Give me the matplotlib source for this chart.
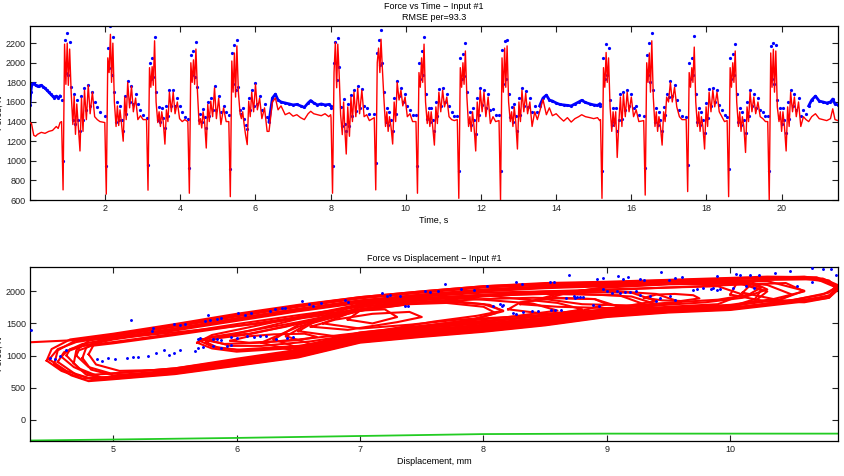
import matplotlib
matplotlib.use('Agg')
import matplotlib.pyplot as plt

plt.rcParams['font.family'] = ['Liberation Sans', 'DejaVu Sans']
plt.rcParams['font.size'] = 6.5

########## FORCE VS TIME ##########
# times of the sharp dips (s)
spike_t = [0.88, 2.03, 3.14, 4.24, 5.33, 8.05, 9.20, 10.31, 11.41, 12.52,
           15.22, 16.37, 17.50, 18.59, 19.67]
# turning points after each dip (s)
cycle_dt = [-0.04, 0.0, 0.04, 0.075, 0.11, 0.14, 0.175, 0.215, 0.26, 0.295, 0.33, 0.365,
            0.405, 0.45, 0.49, 0.53, 0.57, 0.62, 0.67, 0.72, 0.78, 0.84, 0.91, 0.98]

red_cycles = [
    [1400, 703, 2190, 1780, 2200, 1770, 2140, 1700, 1370, 1660, 1270, 1580, 1350, 1100, 1640, 1300, 1720, 1420, 1770, 1480, 1700, 1450, 1420, 1400],
    [1390, 660, 2050, 1900, 2290, 1800, 2200, 1600, 1350, 1560, 1360, 1520, 1380, 1200, 1650, 1420, 1800, 1540, 1760, 1500, 1640, 1420, 1460, 1420],
    [1420, 700, 1950, 1750, 1960, 1770, 2224, 1600, 1390, 1500, 1350, 1500, 1400, 1170, 1520, 1400, 1700, 1500, 1700, 1480, 1600, 1430, 1400, 1420],
    [1400, 669, 2000, 1800, 2030, 1780, 2140, 1711, 1370, 1430, 1335, 1500, 1400, 1130, 1575, 1400, 1608, 1450, 1745, 1430, 1640, 1370, 1540, 1400],
    [1400, 634, 2018, 1700, 2100, 1650, 2172, 1700, 1480, 1430, 1500, 1380, 1267, 1165, 1608, 1450, 1700, 1500, 1780, 1520, 1640, 1430, 1540, 1300],
    [1440, 669, 1900, 2207, 1745, 2190, 1900, 1472, 1267, 1600, 1300, 1069, 1550, 1250, 1650, 1400, 1700, 1450, 1740, 1480, 1720, 1450, 1470, 1410],
    [1440, 703, 2000, 2150, 1900, 2240, 1950, 1650, 1350, 1500, 1300, 1450, 1350, 1171, 1600, 1400, 1800, 1620, 1720, 1560, 1650, 1450, 1480, 1400],
    [1400, 669, 1900, 1750, 2050, 1800, 2190, 1600, 1380, 1500, 1350, 1500, 1350, 1160, 1550, 1380, 1700, 1500, 1720, 1550, 1650, 1450, 1420, 1410],
    [1420, 617, 1950, 1750, 2000, 1780, 2120, 1650, 1350, 1450, 1300, 1500, 1350, 1100, 1600, 1400, 1720, 1500, 1700, 1450, 1650, 1380, 1450, 1400],
    [1410, 600, 2050, 1700, 2150, 1750, 2172, 1600, 1400, 1500, 1350, 1550, 1400, 1120, 1600, 1400, 1720, 1500, 1690, 1480, 1600, 1350, 1500, 1420],
    [1420, 617, 1950, 1750, 2105, 1800, 2050, 1550, 1300, 1500, 1350, 1500, 1034, 1400, 1650, 1350, 1680, 1450, 1700, 1500, 1650, 1450, 1520, 1400],
    [1410, 650, 2000, 1800, 2100, 1700, 2224, 1650, 1350, 1500, 1300, 1450, 1350, 1160, 1500, 1400, 1650, 1600, 1800, 1600, 1750, 1550, 1450, 1420],
    [1420, 686, 1900, 1750, 1950, 1800, 2160, 1600, 1350, 1500, 1300, 1450, 1350, 1120, 1550, 1350, 1700, 1500, 1720, 1550, 1700, 1500, 1450, 1400],
    [1410, 634, 1950, 1750, 2000, 1800, 2120, 1600, 1350, 1500, 1300, 1450, 1350, 1085, 1550, 1400, 1700, 1500, 1650, 1480, 1600, 1450, 1430, 1400],
    [1400, 600, 2100, 1750, 2138, 1700, 2120, 1550, 1400, 1500, 1300, 1500, 1350, 1100, 1550, 1350, 1700, 1500, 1650, 1450, 1600, 1350, 1450, 1420],
]
blue_cycles = [
    [1620, 1000, 2230, 1900, 2300, 1880, 2210, 1750, 1420, 1680, 1380, 1620, 1420, 1300, 1660, 1420, 1740, 1520, 1770, 1560, 1700, 1600, 1550, 1500],
    [1460, 950, 2150, 1950, 2370, 1880, 2260, 1700, 1400, 1600, 1420, 1560, 1420, 1300, 1660, 1480, 1810, 1600, 1760, 1580, 1680, 1580, 1520, 1470],
    [1440, 960, 2000, 1830, 2050, 1850, 2260, 1700, 1420, 1550, 1400, 1540, 1440, 1330, 1560, 1460, 1720, 1560, 1720, 1560, 1640, 1560, 1500, 1450],
    [1430, 930, 2080, 1880, 2120, 1850, 2210, 1750, 1420, 1480, 1400, 1530, 1450, 1330, 1600, 1460, 1640, 1520, 1760, 1520, 1660, 1500, 1560, 1500],
    [1470, 920, 2100, 1780, 2180, 1720, 2230, 1750, 1520, 1480, 1540, 1430, 1360, 1320, 1640, 1520, 1720, 1560, 1790, 1580, 1660, 1520, 1580, 1450],
    [1540, 950, 2000, 2210, 1820, 2250, 1960, 1550, 1350, 1630, 1380, 1300, 1580, 1350, 1670, 1460, 1720, 1510, 1760, 1540, 1730, 1560, 1540, 1480],
    [1480, 980, 2100, 2230, 1980, 2330, 2000, 1700, 1400, 1540, 1360, 1500, 1420, 1300, 1640, 1480, 1810, 1660, 1740, 1600, 1680, 1560, 1520, 1470],
    [1470, 950, 2000, 1830, 2120, 1880, 2260, 1680, 1430, 1540, 1400, 1540, 1420, 1300, 1600, 1460, 1730, 1560, 1740, 1600, 1680, 1560, 1500, 1460],
    [1460, 900, 2050, 1830, 2090, 1860, 2200, 1700, 1400, 1500, 1360, 1540, 1420, 1270, 1640, 1470, 1740, 1570, 1720, 1540, 1680, 1520, 1530, 1470],
    [1470, 900, 2130, 1780, 2220, 1830, 2230, 1680, 1450, 1550, 1400, 1580, 1460, 1300, 1640, 1470, 1740, 1560, 1710, 1550, 1640, 1500, 1560, 1500],
    [1560, 900, 2050, 1830, 2190, 1880, 2150, 1620, 1360, 1540, 1400, 1540, 1300, 1420, 1680, 1430, 1700, 1520, 1720, 1560, 1680, 1540, 1560, 1470],
    [1460, 930, 2080, 1880, 2200, 1800, 2300, 1720, 1400, 1540, 1360, 1500, 1420, 1300, 1550, 1470, 1680, 1650, 1810, 1660, 1770, 1620, 1520, 1460],
    [1450, 960, 2000, 1830, 2050, 1880, 2270, 1680, 1400, 1540, 1360, 1500, 1420, 1280, 1590, 1440, 1730, 1560, 1740, 1600, 1720, 1570, 1520, 1470],
    [1450, 920, 2050, 1830, 2090, 1880, 2190, 1680, 1400, 1540, 1360, 1500, 1420, 1280, 1600, 1460, 1720, 1560, 1680, 1540, 1640, 1520, 1500, 1460],
    [1460, 900, 2170, 1830, 2200, 1780, 2180, 1620, 1440, 1540, 1380, 1540, 1420, 1280, 1600, 1430, 1720, 1560, 1680, 1520, 1640, 1460, 1520, 1480],
]

# quiet stretches (start, two pauses, end)
start_t_red = [0.0, 0.04, 0.1, 0.15, 0.2, 0.3, 0.4, 0.5, 0.6, 0.7, 0.75, 0.8]
start_red = [1390, 1380, 1260, 1250, 1270, 1290, 1280, 1300, 1310, 1350, 1330, 1390]
start_t_blue = [0.0, 0.02, 0.05, 0.1, 0.15, 0.2, 0.25, 0.3, 0.35, 0.4, 0.45, 0.5, 0.55, 0.6, 0.65, 0.7, 0.75, 0.8]
start_blue = [1570, 1700, 1780, 1790, 1770, 1760, 1765, 1770, 1755, 1740, 1720, 1700, 1680, 1660, 1640, 1660, 1640, 1660]

gap1_t = [6.36, 6.45, 6.53, 6.60, 6.68, 6.79, 6.9, 7.0, 7.1, 7.2, 7.3, 7.4, 7.47, 7.55, 7.65, 7.75, 7.85, 7.95, 8.0]
gap1_red = [1300, 1600, 1640, 1520, 1560, 1470, 1490, 1455, 1470, 1440, 1420, 1480, 1505, 1480, 1470, 1460, 1480, 1450, 1470]
gap1_blue = [1400, 1640, 1680, 1620, 1600, 1590, 1580, 1570, 1575, 1560, 1545, 1590, 1615, 1590, 1570, 1580, 1570, 1575, 1560]

gap2_t = [13.56, 13.65, 13.74, 13.82, 13.9, 14.0, 14.1, 14.2, 14.3, 14.4, 14.5, 14.6, 14.68, 14.78, 14.9, 15.0, 15.1, 15.16]
gap2_red = [1500, 1625, 1470, 1540, 1460, 1480, 1440, 1405, 1440, 1395, 1430, 1450, 1470, 1450, 1440, 1430, 1440, 1410]
gap2_blue = [1560, 1640, 1670, 1620, 1610, 1590, 1575, 1570, 1565, 1560, 1580, 1600, 1617, 1595, 1580, 1570, 1565, 1580]

end_t = [20.72, 20.8, 20.9, 21.0, 21.1, 21.2, 21.3, 21.36, 21.42, 21.5]
end_red = [1400, 1450, 1480, 1430, 1420, 1410, 1430, 1530, 1420, 1410]
end_blue = [1560, 1620, 1660, 1610, 1600, 1590, 1600, 1630, 1580, 1570]

########## FORCE VS DISPLACEMENT ##########
# model loops (displacement mm, force N)
loop_disp = [
    [4.48, 4.62, 4.80, 5.0, 5.5, 6.0, 6.5, 7.0, 7.5, 8.0, 8.5, 9.0, 9.5, 10.0, 10.4, 10.75, 10.86,
     10.7, 10.0, 9.5, 9.0, 8.5, 8.0, 7.5, 7.0, 6.5, 6.0, 5.5, 5.0, 4.7, 4.55, 4.48],
    [4.55, 4.70, 4.85, 5.0, 5.5, 6.0, 6.5, 7.0, 7.5, 8.0, 8.5, 9.0, 9.5, 10.0, 10.3, 10.5,
     10.3, 10.0, 9.5, 9.0, 8.5, 8.0, 7.5, 7.0, 6.5, 6.0, 5.5, 5.0, 4.75, 4.6, 4.55],
    [4.62, 4.72, 4.90, 5.0, 5.5, 6.0, 6.5, 7.0, 7.5, 8.0, 8.5, 9.0, 9.5, 10.0, 10.2, 10.3,
     10.1, 9.5, 9.0, 8.5, 8.0, 7.5, 7.0, 6.5, 6.0, 5.5, 5.0, 4.8, 4.65, 4.62],
    [4.68, 4.78, 4.95, 5.5, 6.0, 6.5, 7.0, 7.5, 8.0, 8.5, 9.0, 9.5, 10.0, 10.5, 10.8, 10.87,
     10.75, 10.3, 10.0, 9.5, 9.0, 8.5, 8.0, 7.5, 7.0, 6.5, 6.0, 5.5, 5.0, 4.8, 4.7, 4.68],
    [4.75, 4.82, 5.0, 5.5, 6.0, 6.5, 7.0, 7.5, 8.0, 8.5, 9.0, 9.5, 10.0, 10.2, 10.25,
     10.05, 9.5, 9.0, 8.5, 8.0, 7.5, 7.0, 6.5, 6.0, 5.5, 5.0, 4.85, 4.78, 4.75],
    [4.52, 4.66, 4.80, 5.0, 5.5, 6.0, 6.5, 7.0, 7.5, 8.0, 8.5, 9.0, 9.5, 10.0, 10.5, 10.8, 10.87,
     10.8, 10.5, 10.0, 9.5, 9.0, 8.5, 8.0, 7.5, 7.0, 6.5, 6.0, 5.5, 5.0, 4.7, 4.55, 4.52],
    [4.58, 4.68, 4.82, 5.0, 5.5, 6.0, 6.5, 7.0, 7.5, 8.0, 8.5, 9.0, 9.5, 10.0, 10.35, 10.6,
     10.45, 10.0, 9.5, 9.0, 8.5, 8.0, 7.5, 7.0, 6.5, 6.0, 5.5, 5.0, 4.75, 4.62, 4.58],
    [4.46, 4.58, 4.75, 5.0, 5.5, 6.0, 6.5, 7.0, 7.5, 8.0, 8.5, 9.0, 9.5, 10.0, 10.5, 10.8, 10.87,
     10.7, 10.3, 10.0, 9.5, 9.0, 8.5, 8.0, 7.5, 7.0, 6.5, 6.0, 5.5, 5.0, 4.65, 4.50, 4.46],
    [4.70, 4.80, 4.98, 5.5, 6.0, 6.5, 7.0, 7.5, 8.0, 8.5, 9.0, 9.5, 9.9, 10.1,
     9.9, 9.5, 9.0, 8.5, 8.0, 7.5, 7.0, 6.5, 6.0, 5.5, 5.0, 4.82, 4.72, 4.70],
    [4.80, 4.86, 5.05, 5.5, 6.0, 6.5, 7.0, 7.5, 8.0, 8.5, 9.0, 9.5, 10.0, 10.4, 10.6,
     10.3, 10.0, 9.5, 9.0, 8.5, 8.0, 7.5, 7.0, 6.5, 6.0, 5.5, 5.0, 4.85, 4.80],
    # loops round the hole at 7.4-8.2 mm
    [5.70, 5.80, 6.00, 6.50, 7.00, 7.50, 7.90, 8.16, 8.05, 7.80, 7.50, 7.00, 6.50, 6.00, 5.80, 5.70],
    [5.75, 5.85, 6.05, 6.50, 7.00, 7.50, 7.90, 8.10, 8.00, 7.70, 7.40, 7.00, 6.50, 6.10, 5.85, 5.75],
    [5.72, 5.90, 6.20, 6.50, 6.80, 7.20, 7.60, 7.95, 8.16, 8.00, 7.60, 7.20, 6.80, 6.40, 6.10, 5.85, 5.72],
    [5.95, 6.10, 6.30, 6.50, 6.65, 6.55, 6.30, 6.10, 5.95],
    [5.68, 5.80, 6.00, 6.50, 7.00, 7.50, 8.00, 8.50, 8.80, 8.60, 8.00, 7.50, 7.00, 6.50, 6.00, 5.80, 5.68],
    [5.78, 5.95, 6.20, 6.60, 7.00, 7.40, 7.80, 8.20, 8.60, 8.40, 7.80, 7.40, 7.00, 6.60, 6.20, 5.95, 5.78],
    # middle loops
    [6.30, 6.50, 7.00, 7.50, 8.00, 8.50, 9.00, 9.30, 9.10, 8.50, 8.00, 7.50, 7.00, 6.50, 6.30],
    [6.40, 6.60, 7.00, 7.50, 8.00, 8.50, 9.00, 9.40, 9.20, 8.60, 8.00, 7.50, 7.00, 6.60, 6.40],
    [6.20, 6.45, 7.00, 7.50, 8.00, 8.50, 8.90, 9.10, 8.90, 8.40, 8.00, 7.50, 7.00, 6.50, 6.20],
    [6.50, 6.80, 7.20, 7.60, 8.00, 8.40, 8.80, 9.20, 9.60, 9.40, 9.00, 8.50, 8.00, 7.50, 7.00, 6.70, 6.50],
    [6.70, 7.00, 7.40, 7.80, 8.20, 8.60, 9.00, 9.40, 9.20, 8.80, 8.40, 8.00, 7.60, 7.20, 6.90, 6.70],
    [6.60, 6.90, 7.30, 7.50, 7.40, 7.10, 6.80, 6.60],
    [6.90, 7.10, 7.30, 7.20, 7.00, 6.90],
    [8.20, 8.50, 8.80, 9.00, 8.90, 8.60, 8.30, 8.20],
    # right loops
    [8.30, 8.60, 9.00, 9.40, 9.80, 10.10, 10.30, 10.20, 9.90, 9.50, 9.00, 8.60, 8.30],
    [8.50, 8.80, 9.20, 9.55, 9.90, 10.15, 10.25, 10.10, 9.80, 9.40, 9.00, 8.70, 8.50],
    [9.30, 9.45, 9.60, 9.75, 9.70, 9.55, 9.40, 9.30],
    [10.00, 10.30, 10.60, 10.80, 10.87, 10.80, 10.60, 10.30, 10.05, 10.00],
    [10.10, 10.40, 10.65, 10.82, 10.86, 10.75, 10.50, 10.20, 10.10],
    # first stroke entering from the left
    [4.20, 5.00, 5.60, 6.20, 7.00],
]
loop_force = [
    [940, 760, 650, 660, 740, 870, 1000, 1230, 1320, 1400, 1500, 1630, 1690, 1730, 1830, 1950, 2060,
     2190, 2170, 2150, 2120, 2100, 2060, 1980, 1890, 1760, 1610, 1450, 1300, 1210, 1100, 940],
    [900, 700, 620, 640, 720, 850, 980, 1210, 1300, 1380, 1480, 1610, 1680, 1720, 1790, 1950,
     2100, 2160, 2130, 2100, 2080, 2030, 1950, 1850, 1720, 1580, 1420, 1270, 1180, 1050, 900],
    [1000, 800, 660, 670, 760, 890, 1020, 1250, 1340, 1420, 1520, 1640, 1700, 1750, 1850, 2000,
     2120, 2110, 2080, 2050, 2000, 1920, 1820, 1690, 1540, 1390, 1250, 1170, 1100, 1000],
    [880, 700, 640, 750, 880, 1010, 1240, 1330, 1410, 1510, 1630, 1700, 1740, 1860, 1980, 2100,
     2200, 2210, 2190, 2160, 2130, 2110, 2070, 1990, 1900, 1770, 1620, 1460, 1310, 1230, 1080, 880],
    [960, 780, 690, 770, 900, 1040, 1260, 1350, 1430, 1530, 1650, 1710, 1760, 1880, 2020,
     2140, 2120, 2090, 2060, 2010, 1930, 1830, 1700, 1560, 1400, 1260, 1200, 1120, 960],
    [860, 690, 600, 630, 710, 840, 970, 1200, 1290, 1370, 1470, 1600, 1670, 1710, 1820, 1900, 2020,
     2150, 2220, 2200, 2170, 2140, 2120, 2080, 2000, 1910, 1780, 1630, 1470, 1320, 1240, 1080, 860],
    [980, 820, 700, 720, 800, 930, 1070, 1300, 1390, 1460, 1560, 1680, 1740, 1790, 1880, 2000,
     2130, 2100, 2060, 2030, 2000, 1940, 1860, 1760, 1630, 1490, 1340, 1210, 1150, 1060, 980],
    [920, 760, 640, 650, 730, 860, 990, 1220, 1310, 1390, 1490, 1620, 1690, 1740, 1840, 1930, 2080,
     2220, 2230, 2210, 2180, 2150, 2130, 2080, 2000, 1910, 1790, 1650, 1490, 1340, 1250, 1100, 920],
    [1000, 820, 720, 800, 950, 1090, 1320, 1400, 1480, 1570, 1700, 1760, 1800, 1950,
     2080, 2060, 2020, 1990, 1920, 1830, 1720, 1600, 1460, 1320, 1190, 1150, 1080, 1000],
    [1020, 860, 760, 780, 910, 1050, 1280, 1370, 1450, 1550, 1670, 1730, 1770, 1870, 2010,
     2160, 2150, 2120, 2090, 2070, 2020, 1950, 1860, 1730, 1580, 1420, 1280, 1200, 1020],
    [1230, 1140, 1090, 1150, 1300, 1450, 1560, 1690, 1790, 1840, 1830, 1720, 1520, 1350, 1290, 1230],
    [1210, 1120, 1080, 1130, 1280, 1430, 1550, 1660, 1760, 1820, 1800, 1700, 1500, 1330, 1270, 1210],
    [1250, 1180, 1200, 1250, 1310, 1400, 1530, 1620, 1700, 1800, 1850, 1770, 1640, 1450, 1340, 1300, 1250],
    [1230, 1200, 1220, 1240, 1290, 1340, 1330, 1300, 1230],
    [1200, 1110, 1060, 1120, 1270, 1420, 1520, 1620, 1720, 1820, 1940, 1900, 1800, 1600, 1400, 1320, 1200],
    [1240, 1150, 1150, 1220, 1340, 1440, 1530, 1600, 1700, 1810, 1900, 1870, 1780, 1620, 1430, 1320, 1240],
    [1250, 1120, 1330, 1430, 1500, 1590, 1690, 1800, 1940, 1960, 1930, 1870, 1720, 1480, 1250],
    [1300, 1180, 1360, 1460, 1540, 1620, 1720, 1850, 1980, 1990, 1950, 1880, 1750, 1520, 1300],
    [1200, 1080, 1300, 1400, 1470, 1560, 1650, 1760, 1880, 1900, 1880, 1830, 1700, 1450, 1200],
    [1380, 1300, 1380, 1460, 1530, 1600, 1660, 1730, 1830, 1960, 2010, 2000, 1980, 1920, 1800, 1600, 1380],
    [1500, 1420, 1480, 1560, 1600, 1650, 1720, 1800, 1920, 1960, 1960, 1940, 1900, 1790, 1650, 1500],
    [1450, 1400, 1520, 1600, 1680, 1650, 1560, 1450],
    [1560, 1500, 1600, 1720, 1700, 1560],
    [1720, 1650, 1700, 1800, 1880, 1900, 1830, 1720],
    [1800, 1760, 1740, 1780, 1830, 1900, 2030, 2120, 2140, 2120, 2070, 1960, 1800],
    [1880, 1800, 1780, 1830, 1870, 1950, 2060, 2150, 2160, 2100, 2060, 1990, 1880],
    [1900, 1860, 1850, 1890, 1940, 1960, 1950, 1900],
    [1950, 1840, 1830, 1900, 2040, 2170, 2230, 2210, 2120, 1950],
    [1980, 1860, 1860, 1950, 2060, 2190, 2220, 2170, 1980],
    [1195, 1268, 1380, 1500, 1700],
]

# measured points
meas_disp = [4.49, 4.53, 4.57, 4.62, 4.87, 4.91, 4.96, 5.01, 5.11, 5.16, 5.20, 5.28, 5.35, 5.41, 5.45,
             5.49, 5.54, 5.66, 5.69, 5.73, 5.81, 5.87, 5.92, 5.95, 5.14, 5.31, 5.32, 5.49, 5.54, 5.58,
             5.74, 5.77, 5.78, 5.84, 5.87, 6.01, 6.07, 6.12, 6.27, 6.31, 6.37, 6.39, 5.69, 5.70, 5.81,
             5.84, 5.87, 5.95, 6.00, 6.08, 6.14, 6.19, 6.24, 6.32, 6.41, 6.46, 4.33,
             6.53, 6.59, 6.62, 6.68, 6.88, 6.90, 7.18, 7.22, 7.24, 7.32, 7.36, 7.39, 7.53, 7.57, 7.63,
             7.69, 7.82, 7.92, 8.03, 8.08, 8.13, 8.16, 8.15, 8.24, 8.26, 8.32, 8.39, 8.44, 8.55, 8.58,
             8.63, 8.26, 8.31, 8.54, 8.57, 8.69, 8.73, 8.76,
             8.92, 8.97, 9.09, 9.13, 9.17, 9.27, 9.30, 9.44, 9.50, 9.55, 9.61, 9.89, 10.05, 10.08, 10.16,
             10.23, 10.36, 10.48, 10.66, 10.75, 10.82, 10.86, 10.54, 10.66, 8.74, 8.78, 8.81, 8.97,
             9.00, 9.04, 9.08, 9.11, 9.15, 9.19, 9.24, 9.27, 9.35, 9.43, 9.40, 9.51, 9.55, 9.70, 9.73,
             9.78, 9.84, 9.86, 9.89, 9.92, 10.02, 10.13, 10.19, 8.89, 8.94, 8.67]
meas_force = [964, 938, 989, 1093, 938, 911, 964, 938, 964, 979, 979, 1000, 1042, 1093, 1015,
              1042, 1093, 1067, 1119, 1135, 1145, 1119, 1145, 1171, 1560, 1378, 1431, 1497, 1482, 1497,
              1534, 1638, 1549, 1575, 1586, 1664, 1638, 1664, 1689, 1726, 1741, 1741, 1259, 1275, 1259,
              1259, 1249, 1290, 1275, 1311, 1290, 1300, 1311, 1259, 1275, 1290, 1390,
              1844, 1808, 1767, 1819, 1871, 1829, 1975, 1922, 1948, 1933, 1767, 1777, 2000, 1990, 2000,
              2114, 2037, 2015, 2088, 1767, 1808, 1793, 1767, 1664, 1653, 1679, 1689, 1689, 1715, 1715,
              1704, 2146, 2119, 2146, 2146, 2259, 1922, 1906,
              2192, 2208, 2233, 2192, 2218, 2192, 2182, 2296, 2182, 2208, 2218, 2233, 2275, 2259, 2259,
              2259, 2286, 2322, 2363, 2353, 2348, 2259, 2078, 2140, 1896, 1912, 1906, 2037,
              2000, 1975, 2000, 1975, 1985, 1990, 2000, 1948, 1922, 1896, 1844, 1922, 1871, 2026, 2037,
              2052, 2037, 2052, 2015, 2037, 2052, 2078, 2052, 1793, 1767, 1896]

# reference line
ref_disp = [4.20, 5.0, 6.0, 7.0, 8.0, 9.0, 10.0, 11.0]
ref_force = [-328, -310, -285, -255, -225, -218, -218, -218]

########## ARMADO DE LAS SERIES ##########
red_pts = list(zip(start_t_red, start_red)) + list(zip(gap1_t, gap1_red)) \
    + list(zip(gap2_t, gap2_red)) + list(zip(end_t, end_red))
cyc_bt = []
cyc_bf = []
for t0, rc, bc in zip(spike_t, red_cycles, blue_cycles):
    for dt, r, b in zip(cycle_dt, rc, bc):
        red_pts.append((t0 + dt, r))
        cyc_bt.append(t0 + dt)
        cyc_bf.append(b)
red_pts.sort()

########## GRAFICOS ##########
fig = plt.figure(figsize=(8.44, 4.76), dpi=100)
ax1 = fig.add_axes([30 / 844, 1 - 200 / 476, 808 / 844, 174 / 476])
ax2 = fig.add_axes([30 / 844, 1 - 441 / 476, 808 / 844, 174 / 476])

# measured force: dense where it is quiet, scattered dots during the strokes
for tt, ff in [(start_t_blue, start_blue), (gap1_t, gap1_blue), (gap2_t, gap2_blue), (end_t, end_blue)]:
    ax1.plot(tt, ff, color='#0000ff', lw=2.0, marker='.', ms=2.5, zorder=2)
ax1.plot(cyc_bt, cyc_bf, '.', color='#0000ff', ms=2.6, zorder=2)
ax1.plot([p[0] for p in red_pts], [p[1] for p in red_pts], color='#ff0000', lw=1.0, zorder=3)
ax1.set_xlim(0, 21.5)
ax1.set_ylim(600, 2375)
ax1.set_xticks([2, 4, 6, 8, 10, 12, 14, 16, 18, 20])
ax1.set_yticks(range(600, 2201, 200))
ax1.set_xlabel('Time, s', labelpad=2)
ax1.set_ylabel('Force, N')
ax1.yaxis.set_label_coords(-0.033, 0.5)
ax1.set_title('Force vs Time \u2212 Input #1\nRMSE per=93.3', fontsize=6.5, pad=4, linespacing=1.3)

for d, f in zip(loop_disp, loop_force):
    ax2.plot(d, f, color='#ff0000', lw=1.5, zorder=2)
ax2.plot(meas_disp, meas_force, '.', color='#0000ff', ms=2.2, zorder=3)
ax2.plot(ref_disp, ref_force, color='#22cc22', lw=1.3, zorder=2)
ax2.set_xlim(4.325, 10.873)
ax2.set_ylim(-333, 2380)
ax2.set_xticks([5, 6, 7, 8, 9, 10])
ax2.set_yticks([0, 500, 1000, 1500, 2000])
ax2.set_xlabel('Displacement, mm', labelpad=2)
ax2.set_ylabel('Force, N')
ax2.yaxis.set_label_coords(-0.033, 0.5)
ax2.set_title('Force vs Displacement \u2212 Input #1', fontsize=6.5, pad=4)

for ax in (ax1, ax2):
    ax.tick_params(direction='in', length=4, width=0.8, top=True, right=True,
                   labelsize=6.5, pad=3, colors='#222222')
    for s in ax.spines.values():
        s.set_linewidth(0.9)

plt.savefig('out.png', dpi=100)
